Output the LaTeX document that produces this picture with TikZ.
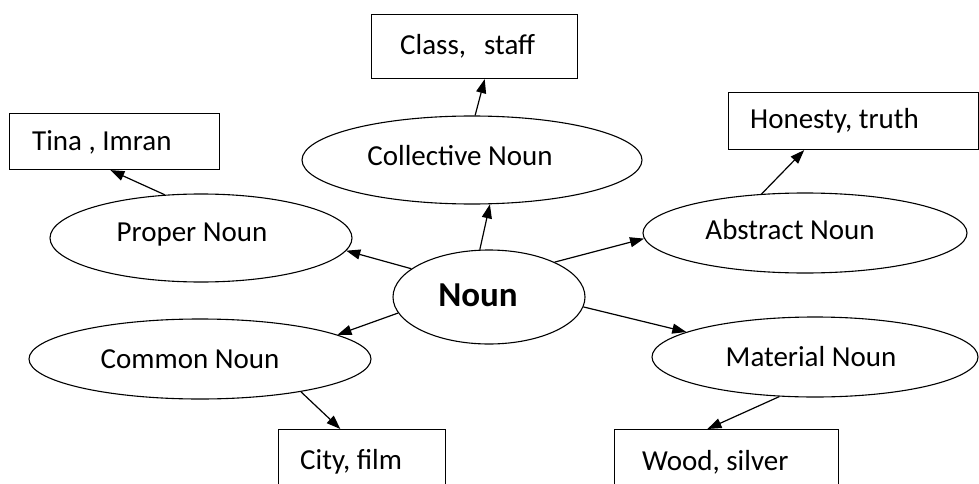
\documentclass[tikz,border=0pt]{standalone}
\usepackage{fontspec}
\setmainfont{Carlito}
\usetikzlibrary{arrows.meta,shapes.geometric,calc}
\begin{document}
\begin{tikzpicture}[x=1pt,y=-1pt,
  oval/.style={draw, ellipse, line width=1.1pt, inner sep=0pt},
  box/.style={draw, line width=1.1pt, inner sep=0pt, anchor=north west},
  lbl/.style={inner sep=0pt, font=\fontsize{29}{32}\selectfont},
  boxlbl/.style={lbl, anchor=west},
  conn/.style={line width=1.2pt, -{Triangle[length=14pt,width=10pt]}}]
\useasboundingbox (0,0) rectangle (979,484);
\clip (0,0) rectangle (979,484);
\fill[white] (0,0) rectangle (979,484);

% ellipses
\node[oval, minimum width=340pt, minimum height=88pt] (col) at (472,160) {};
\node[oval, minimum width=302pt, minimum height=88pt] (prop) at (201,238) {};
\node[oval, minimum width=324pt, minimum height=80pt] (abs) at (805,233) {};
\node[oval, minimum width=192pt, minimum height=94pt] (noun) at (489,297) {};
\node[oval, minimum width=342pt, minimum height=80pt] (com) at (200,359) {};
\node[oval, minimum width=326pt, minimum height=80pt] (mat) at (815,357) {};

\node[lbl] (colt) at (460,156) {Collective Noun};
\node[lbl] (propt) at (192,235) {Proper Noun};
\node[lbl] (abst) at (790,230) {Abstract Noun};
\node[inner sep=0pt, font=\fontsize{35}{38}\selectfont\bfseries] (nount) at (478,295) {Noun};
\node[lbl] (comt) at (190,359) {Common Noun};
\node[lbl] (matt) at (811,357) {Material Noun};

% boxes
\node[box, minimum width=206pt, minimum height=64pt] (class) at (371,14) {};
\node[box, minimum width=210pt, minimum height=56pt] (tina) at (9,113) {};
\node[box, minimum width=249.5pt, minimum height=57pt] (hon) at (728,92) {};
\node[box, minimum width=167pt, minimum height=80pt] (city) at (278,429) {};
\node[box, minimum width=224pt, minimum height=80pt] (wood) at (614,429) {};

\node[boxlbl] (classt) at (400,46) {Class,\hspace{18pt}staff};
\node[boxlbl] (tinat) at (32,142) {Tina , Imran};
\node[boxlbl] (hont) at (750,121) {Honesty, truth};
\node[boxlbl] (cityt) at (300,462) {City, film};
\node[boxlbl] (woodt) at (642,462) {Wood, silver};

% connectors
\draw[conn] (noun.101) -- (col.292);
\draw[conn] (col.86) -- ($(class.south west)!0.549!(class.south east)$);
\draw[conn] (noun.28) -- (abs.182);
\draw[conn] (abs.138) -- ($(hon.south west)!0.304!(hon.south east)$);
\draw[conn] (noun.160) -- (prop.-5);
\draw[conn] (prop.130) -- ($(tina.south west)!0.48!(tina.south east)$);
\draw[conn] (noun.190) -- (com.10);
\draw[conn] (com.-18) -- ($(city.north west)!0.371!(city.north east)$);
\draw[conn] (noun.-6) -- (mat.169);
\draw[conn] (mat.228) -- ($(wood.north west)!0.415!(wood.north east)$);
\end{tikzpicture}
\end{document}
